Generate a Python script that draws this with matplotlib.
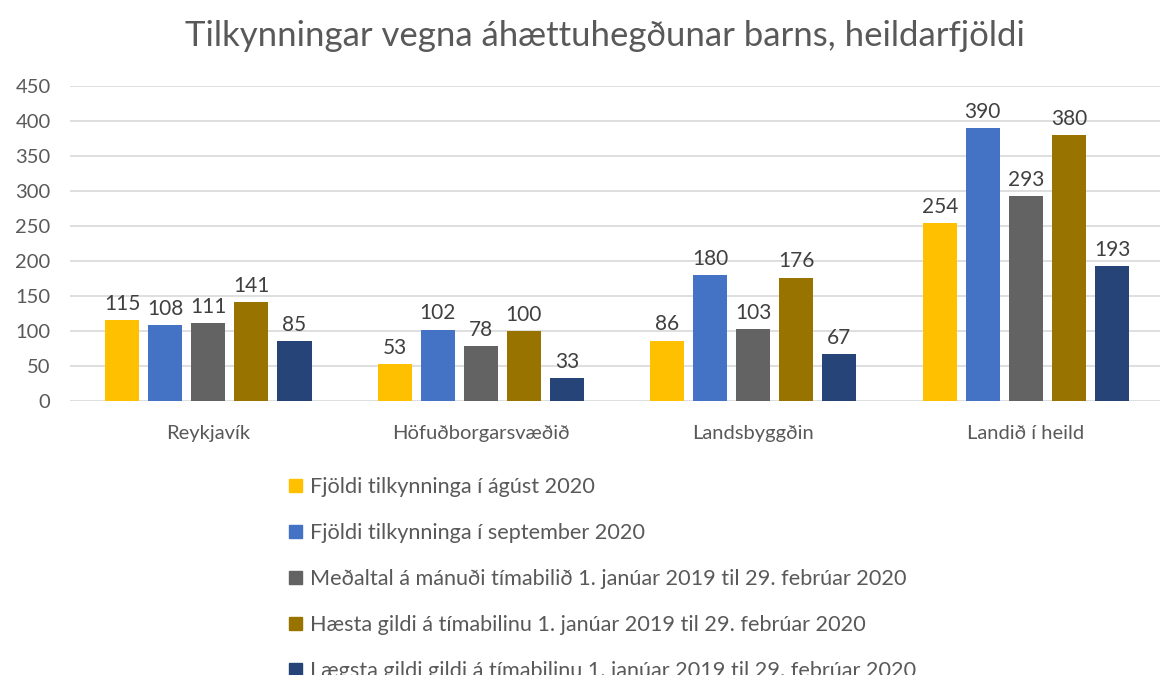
import numpy as np
import matplotlib.pyplot as plt
from matplotlib.patches import Patch

plt.rcParams['font.family'] = ['Lato', 'DejaVu Sans']

svaedi = ['Reykjavík', 'Höfuðborgarsvæðið', 'Landsbyggðin', 'Landið í heild']
radir = ['Fjöldi tilkynninga í ágúst 2020',
         'Fjöldi tilkynninga í september 2020',
         'Meðaltal á mánuði tímabilið 1. janúar 2019 til 29. febrúar 2020',
         'Hæsta gildi á tímabilinu 1. janúar 2019 til 29. febrúar 2020',
         'Lægsta gildi gildi á tímabilinu 1. janúar 2019 til 29. febrúar 2020']
agust = [115, 53, 86, 254]
september = [108, 102, 180, 390]
medaltal = [111, 78, 103, 293]
haest = [141, 100, 176, 380]
laegst = [85, 33, 67, 193]
litir = ['#FFC000', '#4472C4', '#636363', '#997300', '#264478']

gildi = [agust, september, medaltal, haest, laegst]

fig = plt.figure(figsize=(11.74, 6.75), dpi=100)
ax = fig.add_axes([0.0596, 0.406, 0.9284, 0.4667])

x = np.arange(len(svaedi))
w = 0.125
step = 0.158
for i, (g, c) in enumerate(zip(gildi, litir)):
    pos = x + (i - 2) * step + 0.008
    ax.bar(pos, g, width=w, color=c, zorder=3)
    for px, v in zip(pos, g):
        ax.text(px, v + 9, str(v), ha='center', va='bottom',
                fontsize=15, color='#404040')

ax.set_xlim(-0.5, 3.5)
ax.set_ylim(0, 450)
ax.set_yticks(range(0, 451, 50))
ax.set_xticks(x + 0.008)
ax.set_xticklabels(svaedi)
ax.grid(axis='y', color='#d9d9d9', linewidth=1.2, zorder=0)
for s in ax.spines.values():
    s.set_visible(False)
ax.tick_params(axis='both', length=0, labelsize=14.5, colors='#595959')
ax.tick_params(axis='x', pad=17)
ax.tick_params(axis='y', pad=14)

fig.text(0.515, 0.947, 'Tilkynningar vegna áhættuhegðunar barns, heildarfjöldi',
         ha='center', va='center', fontsize=25, color='#595959')

handles = [Patch(color=c, label=r) for c, r in zip(litir, radir)]
fig.legend(handles=handles, loc='upper left', bbox_to_anchor=(0.239, 0.306),
           frameon=False, fontsize=15.6, labelcolor='#595959',
           handlelength=0.6, handleheight=0.6, handletextpad=0.35,
           labelspacing=1.2, borderaxespad=0)

fig.savefig('out.png', dpi=100)
